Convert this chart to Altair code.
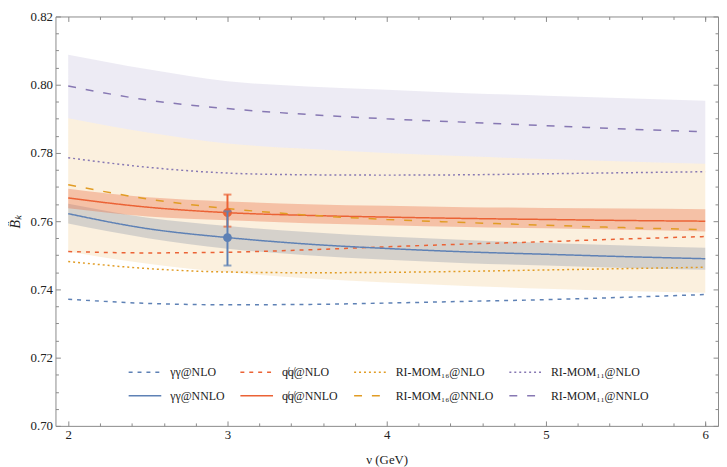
import altair as alt
import pandas as pd

# renormalisation scale nu (GeV)
nu = [2, 2.5, 3, 3.5, 4, 4.5, 5, 5.5, 6]

# central curves
gg_nlo   = [0.7371, 0.7359, 0.7355, 0.7356, 0.7360, 0.7365, 0.7370, 0.7377, 0.7385]
qq_nlo   = [0.7511, 0.7507, 0.7509, 0.7516, 0.7525, 0.7533, 0.7540, 0.7548, 0.7555]
m16_nlo  = [0.7482, 0.7461, 0.7451, 0.7449, 0.7450, 0.7453, 0.7457, 0.7461, 0.7465]
m11_nlo  = [0.7786, 0.7758, 0.7741, 0.7736, 0.7735, 0.7736, 0.7739, 0.7742, 0.7745]
gg_nnlo  = [0.7622, 0.7578, 0.7552, 0.7533, 0.7520, 0.7510, 0.7503, 0.7496, 0.7490]
qq_nnlo  = [0.7668, 0.7641, 0.7625, 0.7617, 0.7612, 0.7608, 0.7605, 0.7602, 0.7600]
m16_nnlo = [0.7707, 0.7665, 0.7637, 0.7618, 0.7605, 0.7596, 0.7588, 0.7581, 0.7575]
m11_nnlo = [0.7996, 0.7955, 0.7930, 0.7913, 0.7900, 0.7890, 0.7880, 0.7870, 0.7862]

# uncertainty bands
m11_lo = [0.7902, 0.7860, 0.7828, 0.7812, 0.7800, 0.7790, 0.7782, 0.7775, 0.7768]
m11_hi = [0.8088, 0.8045, 0.8010, 0.7995, 0.7985, 0.7975, 0.7968, 0.7960, 0.7953]
m16_lo = [0.7511, 0.7475, 0.7450, 0.7433, 0.7420, 0.7410, 0.7402, 0.7395, 0.7390]
m16_hi = m11_lo
gg_lo  = [0.7593, 0.7550, 0.7519, 0.7500, 0.7487, 0.7477, 0.7470, 0.7463, 0.7458]
gg_hi  = [0.7651, 0.7610, 0.7586, 0.7568, 0.7555, 0.7545, 0.7536, 0.7529, 0.7522]
qq_lo  = [0.7638, 0.7614, 0.7603, 0.7594, 0.7588, 0.7583, 0.7579, 0.7575, 0.7570]
qq_hi  = [0.7695, 0.7670, 0.7658, 0.7650, 0.7645, 0.7641, 0.7639, 0.7637, 0.7635]

# data points at nu = 3 GeV
pt_nu = [3, 3]
pt_val = [0.7625, 0.7552]
pt_lo = [0.7584, 0.7470]
pt_hi = [0.7678, 0.7629]
pt_name = ["qq", "gg"]

series_names = ["γγ@NLO", "q̸q̸@NLO", "RI-MOM₁₆@NLO", "RI-MOM₁₁@NLO",
                "γγ@NNLO", "q̸q̸@NNLO", "RI-MOM₁₆@NNLO", "RI-MOM₁₁@NNLO"]
series_vals = [gg_nlo, qq_nlo, m16_nlo, m11_nlo, gg_nnlo, qq_nnlo, m16_nnlo, m11_nnlo]

BLUE, RED, ORANGE, PURPLE = "#5E81B5", "#EB6235", "#E19C24", "#8778B3"
series_colors = [BLUE, RED, ORANGE, PURPLE, BLUE, RED, ORANGE, PURPLE]
series_dash = [[4, 5], [4, 5], [2, 3], [2, 3], [1, 0], [1, 0], [8, 10], [8, 10]]

FONT = "Liberation Serif, Times New Roman, serif"

xscale = alt.Scale(domain=[1.92, 6.08], nice=False, zero=False)
yscale = alt.Scale(domain=[0.70, 0.82], nice=False, zero=False)

lines_df = pd.DataFrame(
    [{"series": s, "nu": n, "v": v} for s, vals in zip(series_names, series_vals)
     for n, v in zip(nu, vals)]
)

bands = [
    (m16_lo, m16_hi, ORANGE, 0.15),
    (m11_lo, m11_hi, PURPLE, 0.15),
    (gg_lo, gg_hi, "#8f97a8", 0.35),
    (qq_lo, qq_hi, RED, 0.33),
]

layers = []
for lo, hi, col, op in bands:
    bdf = pd.DataFrame({"nu": nu, "lo": lo, "hi": hi})
    layers.append(
        alt.Chart(bdf).mark_area(color=col, opacity=op, interpolate="monotone").encode(
            x=alt.X("nu:Q", scale=xscale, axis=None),
            y=alt.Y("lo:Q", scale=yscale, axis=None),
            y2="hi:Q",
        )
    )

def make_legend():
    return alt.Legend(orient="none", legendX=73, legendY=342, columns=4,
                      direction="horizontal", title=None, symbolType="stroke",
                      symbolSize=1089, symbolStrokeWidth=1.5,
                      labelFont=FONT, labelFontSize=12, labelColor="#222",
                      columnPadding=13, rowPadding=-5, labelOffset=8)

lines = alt.Chart(lines_df).mark_line(strokeWidth=1.5, interpolate="monotone").encode(
    x=alt.X("nu:Q", scale=xscale, axis=None),
    y=alt.Y("v:Q", scale=yscale, axis=None),
    color=alt.Color("series:N", scale=alt.Scale(domain=series_names, range=series_colors),
                    legend=make_legend()),
    strokeDash=alt.StrokeDash("series:N", scale=alt.Scale(domain=series_names, range=series_dash),
                              legend=make_legend()),
)
layers.append(lines)

pts_df = pd.DataFrame({"nu": pt_nu, "v": pt_val, "lo": pt_lo, "hi": pt_hi, "name": pt_name})
for name, col in [("qq", RED), ("gg", BLUE)]:
    d = pts_df[pts_df["name"] == name]
    base = alt.Chart(d)
    layers.append(base.mark_rule(color=col, strokeWidth=2).encode(
        x=alt.X("nu:Q", scale=xscale, axis=None),
        y=alt.Y("lo:Q", scale=yscale, axis=None), y2="hi:Q"))
    for f in ["lo", "hi"]:
        layers.append(base.mark_tick(color=col, orient="horizontal", size=8, thickness=2).encode(
            x=alt.X("nu:Q", scale=xscale, axis=None),
            y=alt.Y(f + ":Q", scale=yscale, axis=None)))
    layers.append(base.mark_circle(color=col, size=80, opacity=1).encode(
        x=alt.X("nu:Q", scale=xscale, axis=None),
        y=alt.Y("v:Q", scale=yscale, axis=None)))

# axis carriers (frame ticks pointing inward, labels outside)
W, H = 670, 414
x_major = [2, 3, 4, 5, 6]
x_minor = [2.2, 2.4, 2.6, 2.8, 3.2, 3.4, 3.6, 3.8, 4.2, 4.4, 4.6, 4.8,
           5.2, 5.4, 5.6, 5.8, 6.0]
y_major = [0.70, 0.72, 0.74, 0.76, 0.78, 0.80, 0.82]
y_minor = [0.705, 0.71, 0.715, 0.725, 0.73, 0.735, 0.745, 0.75, 0.755, 0.765,
           0.77, 0.775, 0.785, 0.79, 0.795, 0.805, 0.81, 0.815]
carrier_df = pd.DataFrame({"nu": [2, 6], "v": [0.72, 0.80]})
TICK = "#8a8a8a"

def tick_axis(orient, values, size, offset):
    return alt.Axis(orient=orient, values=values, labels=False, domain=False, grid=False,
                    ticks=True, tickSize=size, tickColor=TICK, tickWidth=1, offset=offset,
                    title=None)

xlab = alt.Axis(orient="bottom", values=x_major, ticks=False, domain=False, grid=False,
                labelPadding=3, labelFont=FONT, labelFontSize=13, labelColor="#222",
                title="ν (GeV)", titleFont=FONT, titleFontSize=13, titleFontWeight="normal",
                titleColor="#222", titlePadding=12)
ylab = alt.Axis(orient="left", values=y_major, format=".2f", ticks=False, domain=False,
                grid=False, labelPadding=3, labelFont=FONT, labelFontSize=13, labelColor="#222",
                title="B̂ₖ", titleFont=FONT, titleFontSize=14, titleFontWeight="normal",
                titleFontStyle="italic", titleColor="#222", titlePadding=8)

axis_pairs = [
    (xlab, ylab),
    (tick_axis("top", x_major, 5, -H), tick_axis("right", y_major, 5, -W)),
    (tick_axis("top", x_minor, 3, -H), tick_axis("right", y_minor, 3, -W)),
    (tick_axis("bottom", x_major, 5, -H), tick_axis("left", y_major, 5, -W)),
    (tick_axis("bottom", x_minor, 3, -H), tick_axis("left", y_minor, 3, -W)),
]
for ax, ay in axis_pairs:
    layers.append(alt.Chart(carrier_df).mark_point(opacity=0).encode(
        x=alt.X("nu:Q", scale=xscale, axis=ax),
        y=alt.Y("v:Q", scale=yscale, axis=ay)))

chart = alt.layer(*layers).resolve_axis(x="independent", y="independent").properties(
    width=W, height=H,
    padding={"left": 48, "top": 6, "right": 1, "bottom": 39},
    autosize=alt.AutoSizeParams(type="none"),
    background="white",
).configure_view(stroke="#8a8a8a", strokeWidth=1)

chart.save("out.html", embed_options={"renderer": "svg", "actions": False})
